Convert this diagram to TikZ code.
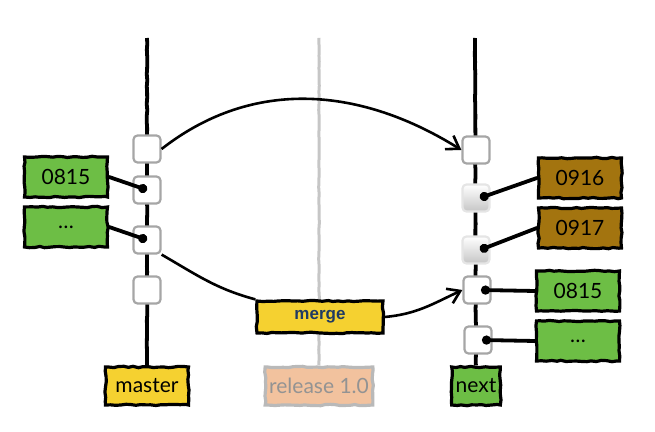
\documentclass[tikz,border=0pt]{standalone}
\usepackage{fontspec}
\setmainfont{Lato}
\newfontfamily\mergefont{Liberation Sans}
\usetikzlibrary{positioning,arrows.meta,decorations.pathmorphing}

\definecolor{topicgreen}{HTML}{6DBE45}
\definecolor{topicbrown}{HTML}{A3740F}
\definecolor{branchyellow}{HTML}{F5D130}
\definecolor{releasepeach}{HTML}{F2C29E}
\definecolor{mergeblue}{HTML}{1F3A63}

\tikzset{
  rough/.style={decorate,decoration={random steps,segment length=2.5pt,amplitude=0.35pt}},
  topic/.style={draw=black,line width=1.6pt,rough,minimum width=41.5pt,minimum height=20pt,
    inner sep=2pt,font=\fontsize{10.5}{12}\selectfont},
  branch/.style={topic,minimum height=19pt},
  commit/.style={draw=gray!70,fill=white,line width=1.1pt,rounded corners=2pt,
    minimum size=13.5pt,inner sep=0pt},
  shadedcommit/.style={commit,draw=gray!20,top color=white,bottom color=gray!45},
  timeline/.style={line width=1.9pt,black,decorate,decoration={random steps,segment length=3pt,amplitude=0.15pt}},
  link/.style={line width=1.9pt,line cap=round,-{Circle[length=4.5pt]}},
  flow/.style={line width=1.3pt,-{Straight Barb[length=6pt,width=8pt]}},
}

\begin{document}
\begin{tikzpicture}[x=0.5pt,y=-0.5pt]
  \pgfmathsetseed{7}
  \useasboundingbox (0,0) rectangle (655,432);

  %branches
  \node[branch,fill=branchyellow] (master) at (147,386) {master};
  \node[branch,fill=releasepeach,draw=gray!55,text=gray!85,minimum width=52pt] (release) at (319,386) {release 1.0};
  \node[branch,fill=topicgreen,minimum width=24pt] (next) at (476,386) {next};

  \coordinate (mastertop) at (147,38);
  \coordinate (releasetop) at (319,38);
  \coordinate (nexttop) at (475,38);
  \draw[timeline] (mastertop) -- (master);
  \draw[timeline,gray!45,line width=1.5pt] (releasetop) -- (release);
  \draw[timeline] (nexttop) -- (next);

  %master commits
  \node[commit] (m1) at (147,149) {};
  \node[commit] (m2) at (147,190) {};
  \node[commit] (m3) at (147,240) {};
  \node[commit] (m4) at (147,290) {};

  %next commits
  \node[commit] (n1) at (476,150) {};
  \node[shadedcommit] (n2) at (476,198) {};
  \node[shadedcommit] (n3) at (476,250) {};
  \node[commit] (n4) at (477,290) {};
  \node[commit] (n5) at (478,340) {};

  %topics
  \node[topic,fill=topicgreen] (left0815) at (66,177) {0815};
  \node[topic,fill=topicgreen] (leftdots) at (66,227) {\ldots};
  \node[topic,fill=topicbrown] (t0916) at (580,178) {0916};
  \node[topic,fill=topicbrown] (t0917) at (580,228) {0917};
  \node[topic,fill=topicgreen] (right0815) at (578,291) {0815};
  \node[topic,fill=topicgreen] (rightdots) at (578,341) {\ldots};

  \draw[link] (left0815.east) -- (m2.center);
  \draw[link] (leftdots.east) -- (m3.center);
  \draw[link] (t0916.west) -- ([xshift=2pt]n2.center);
  \draw[link] (t0917.west) -- ([xshift=2pt]n3.center);
  \draw[link] (right0815.west) -- ([xshift=2pt]n4.center);
  \draw[link] (rightdots.west) -- ([xshift=2pt]n5.center);

  %merge
  \node[topic,fill=branchyellow,minimum width=63pt,minimum height=16pt,
    font=\mergefont\bfseries\fontsize{8.5}{10}\selectfont,text=mergeblue] (merge) at (320,317) {merge};

  \draw[flow] (m1.east) to[out=38,in=148] (n1.west);
  \draw[line width=1.3pt] (m3.south east) to[out=-30,in=165] (merge.north west);
  \draw[flow] (merge.east) to[out=5,in=205] (n4.west);
\end{tikzpicture}
\end{document}
